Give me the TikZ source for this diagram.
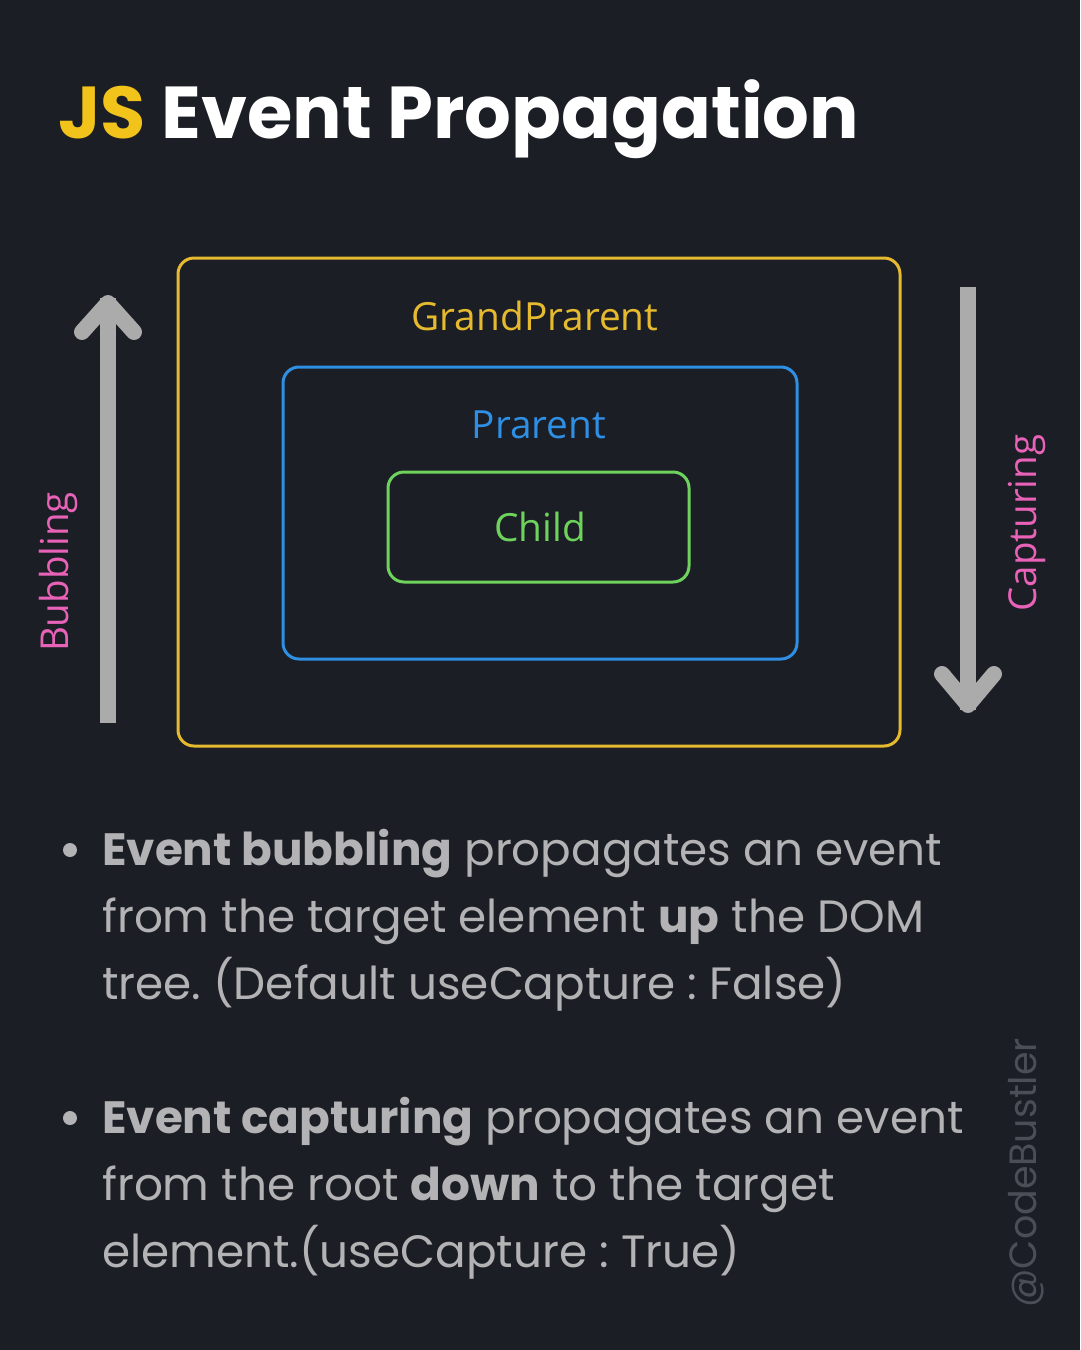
\documentclass[tikz,border=0pt]{standalone}
\usepackage{fontspec}
\setmainfont{Poppins}
\newfontfamily\boxfont{Open Sans}
\newfontfamily\popfont{Poppins}
\definecolor{bg}{HTML}{1B1E24}
\definecolor{jsyellow}{HTML}{F2C31B}
\definecolor{gpcol}{HTML}{E6BA2E}
\definecolor{pcol}{HTML}{2E8FE4}
\definecolor{ccol}{HTML}{6ED35C}
\definecolor{pinkcol}{HTML}{E862B8}
\definecolor{arrowcol}{HTML}{ABABAB}
\definecolor{bodycol}{HTML}{B3B3B5}
\definecolor{wmcol}{HTML}{4B4E56}
\tikzset{
  nestbox/.style={draw, line width=3pt, rounded corners=16pt},
  boxlabel/.style={font=\boxfont\fontsize{38.8}{42}\selectfont, inner sep=0pt, anchor=base},
  sidelabel/.style={font=\boxfont\fontsize{38.5}{42}\selectfont, text=pinkcol, inner sep=0pt, rotate=90, anchor=base},
  bigarrow/.style={draw=arrowcol, line width=16pt},
  arrowhead/.style={draw=arrowcol, line width=16pt, line cap=round, line join=round},
  bodyline/.style={font=\popfont\fontsize{45.3}{60}\selectfont, text=bodycol, inner sep=0pt, anchor=base west},
  bulletdot/.style={circle, fill=bodycol, inner sep=0pt, minimum size=14pt}
}
\begin{document}
\frenchspacing
\begin{tikzpicture}[x=1pt,y=-1pt]
\fill[bg] (0,0) rectangle (1080,1350);
\useasboundingbox (0,0) rectangle (1080,1350);

% title
\node[font=\popfont\bfseries\fontsize{73.5}{84}\selectfont, inner sep=0pt, anchor=base west] (title) at (58,138)
  {\textcolor{jsyellow}{JS} \textcolor{white}{Event Propagation}};

% nested boxes
\draw[nestbox, gpcol] (178,258) rectangle (900,746);
\draw[nestbox, pcol] (283,367) rectangle (797,659);
\draw[nestbox, ccol] (388,472) rectangle (689,582);
\node[boxlabel, text=gpcol] (gp) at (535,330) {GrandPrarent};
\node[boxlabel, text=pcol] (par) at (539,438) {Prarent};
\node[boxlabel, text=ccol] (child) at (540,541) {Child};

% arrows
\coordinate (bubB) at (108,723);
\coordinate (bubT) at (108,303);
\draw[bigarrow] (bubB) -- ([yshift=5pt]bubT);
\draw[arrowhead] (82,332) -- (bubT) -- (134,332);
\coordinate (capT) at (968,287);
\coordinate (capB) at (968,705);
\draw[bigarrow] (capT) -- ([yshift=-5pt]capB);
\draw[arrowhead] (942,674) -- (capB) -- (994,674);

\node[sidelabel] (bub) at (68,572) {Bubbling};
\node[sidelabel] (cap) at (1036,523) {Capturing};

% bullets
\node[bulletdot] (b1) at (70,850) {};
\node[bodyline] (l1) at (102,865) {\textbf{Event bubbling} propagates an event};
\node[bodyline] (l2) at (102,932) {from the target element \textbf{up} the DOM};
\node[bodyline] (l3) at (102,999) {tree. (Default useCapture : False)};
\node[bulletdot] (b2) at (70,1118) {};
\node[bodyline] (l4) at (102,1133) {\textbf{Event capturing} propagates an event};
\node[bodyline] (l5) at (102,1200) {from the root \textbf{down} to the target};
\node[bodyline] (l6) at (102,1267) {element.(useCapture : True)};

% watermark
\node[font=\popfont\fontsize{38}{42}\selectfont, text=wmcol, inner sep=0pt, rotate=90, anchor=base west] (wm) at (1036,1308) {@CodeBustler};
\end{tikzpicture}
\end{document}
